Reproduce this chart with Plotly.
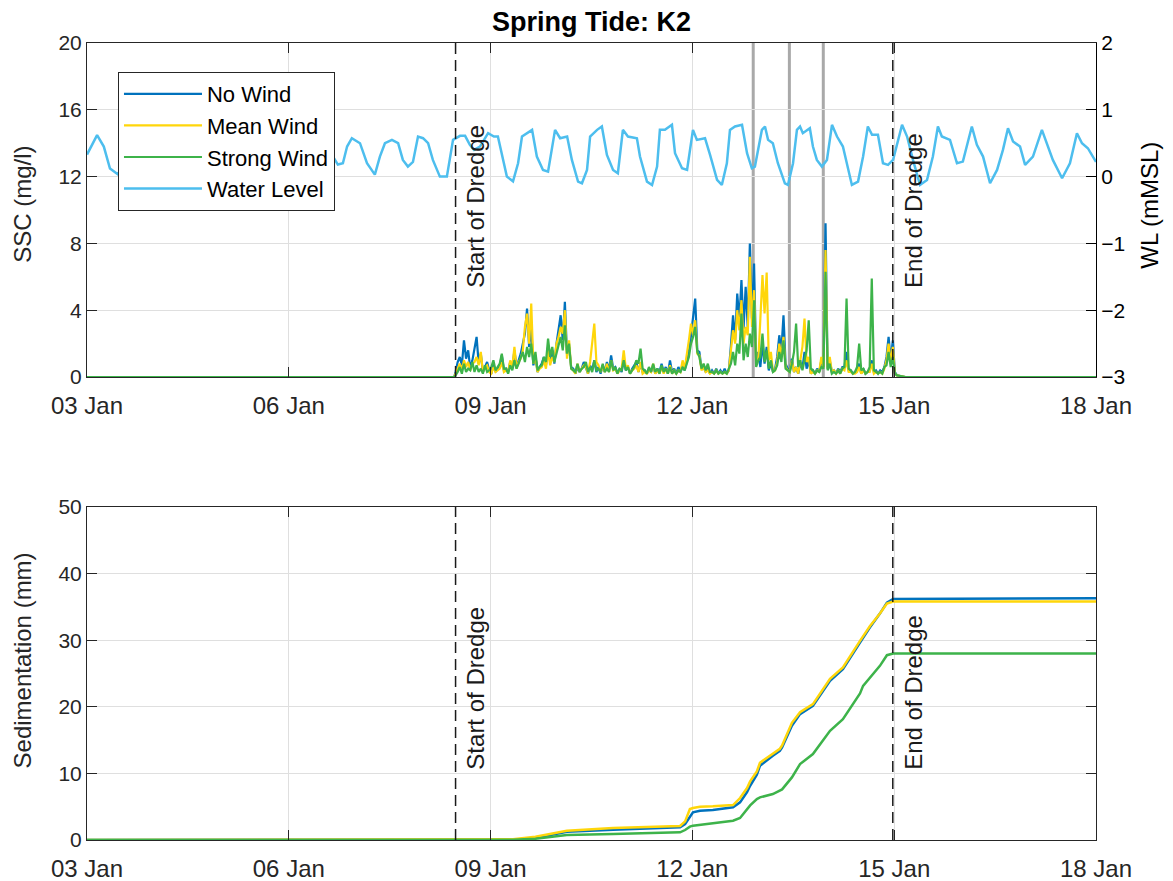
import numpy as np
import pandas as pd
import plotly.graph_objects as go

# ---------------------------------------------------------------- data
T0 = pd.Timestamp("2021-01-03 00:00")
T_END = pd.Timestamp("2021-01-18 00:00")

# Water level at the site (m MSL), hours since 03 Jan 00:00
wl_hours = [0, 3.6, 6.0, 8.2, 11.1, 15.7, 21.4, 27.1, 32.8, 38.5, 44.2, 49.6, 55.3, 61.0,
            66.7, 72.4, 78.1, 83.8, 89.5, 91.3, 92.8, 94.5, 97.4, 99.9, 102.7, 104.5, 106.3,
            108.8, 111.0, 112.7, 114.5, 116.3, 118.1, 119.9, 121.7, 123.4, 125.9, 128.4, 130.6,
            133.1, 134.9, 136.6, 138.1, 140.2, 143.1, 145.2, 146.6, 148.1, 149.8, 152.0, 153.8,
            155.2, 157.0, 158.8, 160.5, 162.7, 164.5, 167.0, 168.8, 171.3, 173.0, 175.2, 176.6,
            178.4, 179.5, 182.0, 183.7, 185.5, 187.7, 189.4, 191.2, 193.0, 196.2, 197.3, 199.8,
            201.6, 203.4, 204.4, 206.2, 208.7, 209.8, 212.3, 214.1, 216.2, 217.6, 220.5, 222.3,
            224.8, 226.5, 228.3, 229.4, 231.2, 233.7, 235.5, 237.2, 238.3, 240.8, 241.9, 243.0,
            244.7, 246.5, 249.0, 250.1, 251.9, 253.3, 254.4, 255.4, 257.9, 259.0, 260.4, 262.2,
            264.0, 265.8, 267.6, 269.7, 271.1, 272.9, 275.1, 276.9, 278.6, 280.1, 282.2, 284.0,
            285.8, 287.6, 290.8, 292.6, 294.7, 297.2, 299.7, 301.8, 303.6, 305.0, 307.9, 310.4,
            312.5, 314.3, 315.7, 317.5, 319.7, 322.2, 324.7, 326.8, 328.6, 330.4, 332.9, 334.7,
            337.5, 340.7, 342.5, 344.6, 347.9, 350.7, 353.2, 355.0, 357.1, 360.0]
wl_level = [0.33, 0.62, 0.45, 0.12, 0.03, 0.58, 0.2, 0.6, 0.03, 0.58, 0.2, 0.6, 0.02, 0.58,
            0.2, 0.6, 0.03, 0.58, 0.18, 0.2, 0.45, 0.575, 0.5, 0.2, 0.03, 0.3, 0.5,
            0.55, 0.5, 0.25, 0.15, 0.22, 0.6, 0.575, 0.5, 0.25, 0.0, 0.0, 0.55,
            0.61, 0.61, 0.475, 0.4, 0.45, 0.65, 0.6, 0.6, 0.3, 0.0, -0.07, 0.2,
            0.6, 0.65, 0.7, 0.3, 0.1, 0.075, 0.7, 0.575, 0.6, 0.25, -0.075, -0.1,
            0.1, 0.6, 0.7, 0.75, 0.325, 0.1, 0.05, 0.7, 0.6, 0.575, 0.3, -0.075,
            -0.125, 0.15, 0.7, 0.7, 0.775, 0.35, 0.125, 0.1, 0.7, 0.55, 0.575, 0.325,
            -0.05, -0.125, 0.2, 0.7, 0.75, 0.775, 0.35, 0.125, 0.15, 0.7, 0.75, 0.55,
            0.5, 0.2, -0.1, -0.125, 0.2, 0.7, 0.75, 0.65, 0.725, 0.45, 0.25, 0.15,
            0.25, 0.775, 0.6, 0.45, 0.2, -0.125, -0.075, 0.3, 0.75, 0.625, 0.625, 0.2,
            0.175, 0.25, 0.775, 0.6, 0.25, -0.125, -0.05, 0.3, 0.75, 0.6, 0.55, 0.2,
            0.225, 0.5, 0.75, 0.475, 0.3, -0.1, 0.1, 0.4, 0.725, 0.525, 0.45, 0.175,
            0.3, 0.7, 0.5, 0.25, -0.025, 0.2, 0.65, 0.5, 0.425, 0.22]

# SSC record during dredging (mg/l), sampled every 0.75 h from 131.5 h
ssc_start_hour = 131.5
ssc_step_hours = 0.75
ssc_no_wind = [
    0.3, 0.9, 1.2, 0.7, 2.2, 1.1, 1.6, 0.5, 1.0, 1.7, 2.4, 0.8, 1.4, 0.3, 0.6, 0.9, 0.4, 0.2,
    0.8, 0.3, 0.5, 0.6, 1.3, 0.4, 0.5, 0.3, 0.9, 0.5, 1.6, 0.6, 1.0, 1.4, 2.0, 2.6, 4.1, 1.8,
    3.0, 0.7, 1.2, 0.3, 0.6, 0.8, 1.2, 0.7, 1.8, 0.9, 1.6, 0.8, 2.0, 2.9, 3.7, 2.2, 4.5, 1.4,
    1.8, 0.6, 0.5, 0.2, 0.6, 0.3, 0.5, 0.9, 0.6, 0.2, 0.7, 0.4, 1.0, 0.3, 0.6, 0.2, 0.7, 0.3,
    0.9, 0.4, 1.3, 0.5, 0.6, 0.2, 0.5, 0.3, 1.0, 0.4, 0.6, 0.2, 0.5, 0.7, 0.9, 0.3, 0.8, 0.3,
    0.4, 0.2, 0.5, 0.3, 0.7, 0.2, 0.5, 0.3, 0.8, 0.3, 0.6, 0.2, 1.0, 0.3, 0.5, 0.2, 0.6, 0.3,
    0.7, 0.4, 1.0, 1.5, 2.5, 3.5, 4.7, 1.6, 1.5, 0.5, 0.6, 0.3, 0.5, 0.2, 0.4, 0.2, 0.5, 0.2,
    0.4, 0.2, 0.5, 0.2, 0.4, 1.9, 3.7, 2.2, 5.0, 3.4, 5.8, 2.9, 5.4, 3.0, 8.0, 3.5, 6.8, 0.9,
    1.5, 0.6, 2.0, 0.8, 1.8, 0.4, 0.8, 0.3, 0.5, 1.2, 2.5, 1.6, 3.7, 0.8, 0.5, 0.4, 1.1, 0.3,
    0.6, 0.2, 0.8, 0.5, 1.5, 0.5, 1.0, 0.2, 0.4, 0.2, 0.5, 0.3, 1.0, 0.6, 9.2, 0.5, 1.0, 0.3,
    0.4, 0.2, 0.5, 0.3, 0.6, 0.6, 1.5, 0.4, 0.4, 0.2, 0.3, 0.4, 0.8, 0.2, 0.5, 0.2, 0.3, 0.4,
    1.0, 0.3, 0.4, 0.2, 0.4, 0.3, 0.6, 1.2, 2.4, 1.0, 2.2, 0.3, 0.1]
ssc_mean_wind = [
    0.2, 0.5, 0.8, 0.4, 1.0, 0.6, 0.9, 0.4, 0.8, 0.9, 1.2, 0.7, 1.5, 0.3, 0.6, 0.7, 0.3, 0.2,
    0.6, 0.3, 0.4, 0.5, 0.9, 0.3, 0.4, 0.3, 1.0, 0.6, 1.8, 0.5, 0.9, 1.1, 1.6, 3.0, 3.8, 2.0,
    4.4, 0.8, 1.2, 0.3, 0.5, 0.6, 1.0, 0.5, 1.6, 0.7, 1.2, 0.9, 2.0, 2.4, 3.0, 2.6, 4.0, 1.1,
    2.2, 0.5, 0.4, 0.2, 0.8, 0.3, 0.5, 0.7, 0.6, 0.2, 0.9, 2.1, 3.2, 0.9, 0.7, 0.3, 0.6, 0.3,
    0.8, 0.3, 1.0, 0.4, 0.5, 0.2, 0.4, 0.5, 1.6, 0.5, 0.7, 0.2, 0.4, 0.5, 0.7, 0.3, 0.9, 0.2,
    0.3, 0.2, 0.4, 0.3, 0.8, 0.2, 0.4, 0.2, 0.6, 0.2, 0.5, 0.2, 0.7, 0.2, 0.4, 0.2, 0.4, 0.3,
    1.0, 0.5, 1.3, 2.2, 3.2, 2.5, 3.4, 1.4, 1.3, 0.4, 0.6, 0.3, 0.4, 0.2, 0.3, 0.2, 0.4, 0.2,
    0.3, 0.2, 0.3, 0.2, 0.4, 1.5, 2.8, 2.0, 4.0, 2.8, 4.6, 2.0, 3.0, 2.5, 7.2, 3.0, 5.2, 0.8,
    1.0, 3.5, 6.1, 3.8, 6.25, 1.0, 1.5, 0.3, 0.4, 0.9, 2.0, 1.2, 2.4, 0.6, 0.4, 0.3, 1.0, 0.3,
    0.6, 0.2, 1.0, 1.8, 3.5, 0.9, 1.2, 0.2, 0.3, 0.2, 0.4, 0.3, 1.2, 0.6, 7.6, 0.5, 1.2, 0.3,
    0.4, 0.2, 0.4, 0.2, 0.5, 0.4, 1.0, 0.3, 0.3, 0.2, 0.2, 0.3, 0.6, 0.2, 0.4, 0.2, 0.3, 0.3,
    0.8, 0.2, 0.3, 0.2, 0.3, 0.2, 0.5, 1.0, 2.0, 0.8, 1.8, 0.2, 0.1]
ssc_strong_wind = [
    0.1, 0.3, 0.6, 0.2, 0.8, 0.3, 0.5, 0.4, 0.9, 0.3, 0.7, 0.3, 0.5, 0.2, 0.7, 0.3, 0.4, 0.6,
    1.0, 0.4, 0.6, 0.8, 1.4, 0.5, 0.5, 0.2, 0.7, 0.4, 1.0, 0.5, 0.8, 1.2, 1.5, 0.9, 1.8, 1.2,
    2.0, 0.8, 1.5, 0.4, 0.6, 0.7, 1.2, 0.9, 2.3, 1.2, 1.8, 0.9, 1.5, 1.9, 2.4, 1.6, 3.1, 1.4,
    2.0, 0.5, 0.4, 0.3, 0.8, 0.3, 0.5, 0.6, 0.9, 0.3, 0.6, 0.3, 1.0, 0.4, 0.5, 0.3, 0.8, 0.3,
    0.5, 0.3, 1.0, 0.4, 0.6, 0.2, 0.5, 0.4, 1.0, 0.4, 0.6, 0.2, 0.4, 0.6, 1.0, 0.8, 1.7, 0.5,
    0.4, 0.2, 0.6, 0.3, 0.8, 0.3, 0.5, 0.2, 0.7, 0.3, 0.5, 0.2, 0.6, 0.2, 0.4, 0.2, 0.4, 0.3,
    0.6, 0.4, 0.8, 1.2, 2.0, 2.4, 3.0, 1.5, 1.2, 0.5, 0.8, 0.4, 0.8, 0.3, 0.3, 0.2, 0.4, 0.2,
    0.3, 0.2, 0.3, 0.2, 0.5, 0.8, 1.5, 0.7, 2.0, 1.4, 3.8, 1.0, 2.0, 1.2, 2.6, 1.8, 4.6, 0.6,
    1.0, 1.2, 2.6, 0.9, 1.6, 0.5, 1.0, 0.3, 0.4, 0.7, 1.5, 0.9, 2.2, 0.5, 0.4, 0.3, 0.8, 1.5,
    3.2, 0.6, 1.0, 0.4, 1.0, 1.6, 3.4, 0.5, 0.4, 0.2, 0.4, 0.3, 0.6, 0.5, 6.3, 0.4, 0.8, 0.2,
    0.3, 0.2, 0.4, 0.2, 0.5, 0.6, 4.7, 0.5, 0.4, 0.2, 0.3, 0.6, 2.0, 0.4, 0.5, 0.2, 0.3, 0.6,
    5.9, 0.4, 0.3, 0.2, 0.3, 0.2, 0.6, 0.7, 1.5, 0.6, 1.2, 0.2, 0.1]

# Cumulative sedimentation (mm)
sed_hours = [0, 149.8, 152.0, 160.0, 167.7, 171.2, 187.7, 211.6, 213.4, 215.1, 216.2, 218.7,
             223.3, 230.5, 233.0, 235.5, 236.6, 239.0, 240.1, 244.7, 247.2, 248.0, 251.5,
             254.4, 259.0, 265.1, 269.7, 275.8, 276.9, 279.3, 282.9, 285.4, 287.6, 360.0]
sed_no_wind = [0, 0, 0.05, 0.3, 0.9, 1.25, 1.55, 1.9, 2.4, 3.5, 4.15, 4.4,
               4.5, 4.9, 5.65, 7.2, 8.15, 9.8, 11.15, 12.65, 13.4, 13.9, 17.15,
               18.9, 20.15, 23.9, 25.65, 29.65, 30.4, 31.9, 34.0, 35.65, 36.2, 36.3]
sed_mean_wind = [0, 0, 0.1, 0.5, 1.1, 1.4, 1.8, 2.1, 2.8, 4.65, 4.8, 5.0,
                 5.05, 5.25, 6.3, 7.8, 8.8, 10.3, 11.6, 13.0, 13.7, 14.2, 17.6,
                 19.2, 20.4, 24.2, 25.9, 29.9, 30.6, 32.1, 34.0, 35.5, 35.8, 35.8]
sed_strong_wind = [0, 0, 0.03, 0.2, 0.65, 0.75, 0.9, 1.15, 1.5, 2.0, 2.15, 2.3,
                   2.55, 2.9, 3.3, 4.65, 5.2, 6.15, 6.4, 6.9, 7.4, 7.6, 9.4,
                   11.4, 12.9, 16.4, 18.15, 22.0, 23.15, 24.4, 26.15, 27.75, 28.0, 28.0]

# Dredging window and low-water markers (hours since 03 Jan 00:00)
dredge_start_hour = 131.5
dredge_end_hour = 287.5
low_water_marker_hours = [237.7, 250.6, 262.7]

series_names = ["No Wind", "Mean Wind", "Strong Wind"]
x_tick_labels_every_days = 3

# ---------------------------------------------------------------- styling
FONT = "Liberation Sans, Arial, Helvetica, sans-serif"
AX = "#262626"
GRID = "#DFDFDF"
COLORS = {"No Wind": "#0072BD", "Mean Wind": "#FFD60A", "Strong Wind": "#3DB34A"}
WL_COLOR = "#4DBEEE"
MARKER_GRAY = "#A9A9A9"


def to_time(hours):
    return T0 + pd.to_timedelta(np.asarray(hours, dtype=float), unit="h")


n_ssc = len(ssc_no_wind)
ssc_hours = [0.0, ssc_start_hour - 0.5] + \
    [ssc_start_hour + ssc_step_hours * i for i in range(n_ssc)] + [292.0, 360.0]


def ssc_full(vals):
    return [0.0, 0.0] + list(vals) + [0.0, 0.0]


ssc_time = to_time(ssc_hours)
sed_time = to_time(sed_hours)
wl_time = to_time(wl_hours)

fig = go.Figure()

ssc_series = [ssc_no_wind, ssc_mean_wind, ssc_strong_wind]
for name, vals in zip(series_names, ssc_series):
    fig.add_trace(go.Scatter(
        x=ssc_time, y=ssc_full(vals), name=name, mode="lines",
        line=dict(color=COLORS[name], width=2.2),
        xaxis="x", yaxis="y", showlegend=True))

fig.add_trace(go.Scatter(
    x=wl_time, y=wl_level, name="Water Level", mode="lines",
    line=dict(color=WL_COLOR, width=2.5),
    xaxis="x", yaxis="y2", showlegend=True))

sed_series = [sed_no_wind, sed_mean_wind, sed_strong_wind]
for name, vals in zip(series_names, sed_series):
    fig.add_trace(go.Scatter(
        x=sed_time, y=vals, name=name, mode="lines",
        line=dict(color=COLORS[name], width=2.5),
        xaxis="x2", yaxis="y3", showlegend=False))

t_start = to_time([dredge_start_hour])[0]
t_end = to_time([dredge_end_hour])[0]

shapes = []
for th in to_time(low_water_marker_hours):
    shapes.append(dict(type="line", xref="x", yref="y domain", x0=th, x1=th, y0=0, y1=1,
                       line=dict(color=MARKER_GRAY, width=3), layer="below"))
for xr, yr in [("x", "y domain"), ("x2", "y3 domain")]:
    for tt in (t_start, t_end):
        shapes.append(dict(type="line", xref=xr, yref=yr, x0=tt, x1=tt, y0=0, y1=1,
                           line=dict(color="#1A1A1A", width=1.5, dash="11px,6px"),
                           layer="above"))

annotations = []
for xr, yr, yv in [("x", "y", 5.2), ("x2", "y3", 10.2)]:
    for tt, label in [(t_start, "Start of Dredge"), (t_end, "End of Dredge")]:
        annotations.append(dict(x=tt, y=yv, xref=xr, yref=yr, text=label,
                                textangle=-90, showarrow=False, xanchor="left",
                                yanchor="bottom", xshift=5,
                                font=dict(family=FONT, size=24, color="#1A1A1A")))

annotations += [
    dict(text="<b>Spring Tide: K2</b>", x=0.5, y=1.026, xref="paper", yref="paper",
         showarrow=False, xanchor="center", yanchor="middle",
         font=dict(family=FONT, size=27, color="#000000")),
    dict(text="SSC (mg/l)", x=-0.0634, y=0.797, xref="paper", yref="paper",
         textangle=-90, showarrow=False, xanchor="center", yanchor="middle",
         font=dict(family=FONT, size=24, color=AX)),
    dict(text="WL (mMSL)", x=1.0535, y=0.797, xref="paper", yref="paper",
         textangle=-90, showarrow=False, xanchor="center", yanchor="middle",
         font=dict(family=FONT, size=24, color="#000000")),
    dict(text="Sedimentation (mm)", x=-0.064, y=0.2258, xref="paper", yref="paper",
         textangle=-90, showarrow=False, xanchor="center", yanchor="middle",
         font=dict(family=FONT, size=24, color=AX)),
]

dtick_ms = x_tick_labels_every_days * 24 * 3600 * 1000
xcommon = dict(type="date", range=[T0, T_END], tick0=T0, dtick=dtick_ms,
               tickformat="%d %b", ticks="inside", ticklen=10, tickcolor=AX,
               showline=True, linecolor=AX, linewidth=1, mirror="ticks",
               showgrid=True, gridcolor=GRID, gridwidth=1, zeroline=False,
               ticklabelstandoff=7,
               tickfont=dict(family=FONT, size=24, color=AX), automargin=False)
ycommon = dict(ticks="inside", ticklen=10, tickcolor=AX, showline=True, linecolor=AX,
               linewidth=1, showgrid=True, gridcolor=GRID, gridwidth=1, zeroline=False,
               tickfont=dict(family=FONT, size=21, color=AX), automargin=False)

fig.update_layout(
    width=1173, height=881,
    margin=dict(l=87, r=77, t=43, b=41, autoexpand=False),
    paper_bgcolor="white", plot_bgcolor="white",
    font=dict(family=FONT, color=AX),
    xaxis=dict(domain=[0, 1], anchor="y", **xcommon),
    yaxis=dict(domain=[0.5809, 1], anchor="x", range=[0, 20], dtick=4, mirror=False,
               **ycommon),
    yaxis2=dict(overlaying="y", side="right", anchor="x", range=[-3, 2], dtick=1,
                ticks="inside", ticklen=10, tickcolor="#000000", showline=True,
                linecolor="#000000", linewidth=1, showgrid=False, zeroline=False,
                tickfont=dict(family=FONT, size=21, color="#000000"), automargin=False),
    xaxis2=dict(domain=[0, 1], anchor="y3", **xcommon),
    yaxis3=dict(domain=[0, 0.4178], anchor="x2", range=[0, 50], dtick=10, mirror="ticks",
                **ycommon),
    legend=dict(x=0.0307, y=0.9636, xanchor="left", yanchor="top", bgcolor="white",
                bordercolor=AX, borderwidth=1, itemwidth=78,
                font=dict(family=FONT, size=22, color="#000000"),
                tracegroupgap=0),
    shapes=shapes, annotations=annotations,
    showlegend=True,
)

fig.write_html("out.html")
